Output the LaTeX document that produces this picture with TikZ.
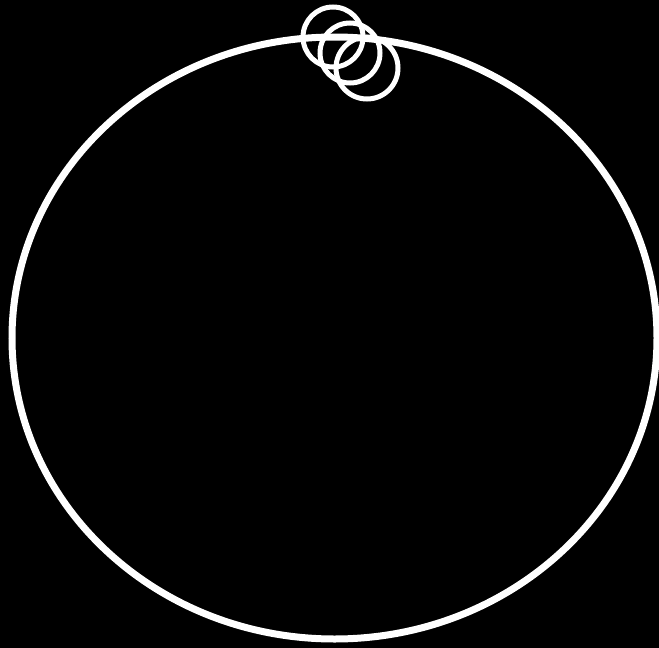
\documentclass[tikz,border=0pt]{standalone}
\begin{document}
\begin{tikzpicture}[x=1pt,y=-1pt,
  big/.style={draw=white,line width=7pt},
  small/.style={draw=white,line width=5pt}]
\fill[black] (0,0) rectangle (659,648);
\useasboundingbox (0,0) rectangle (659,648);
\draw[big] (334.5,338) ellipse [x radius=322.5,y radius=301];
\draw[small] (333,37) circle [radius=30];
\draw[small] (350,53) circle [radius=30];
\draw[small] (367,68) circle [radius=31];
\end{tikzpicture}
\end{document}
